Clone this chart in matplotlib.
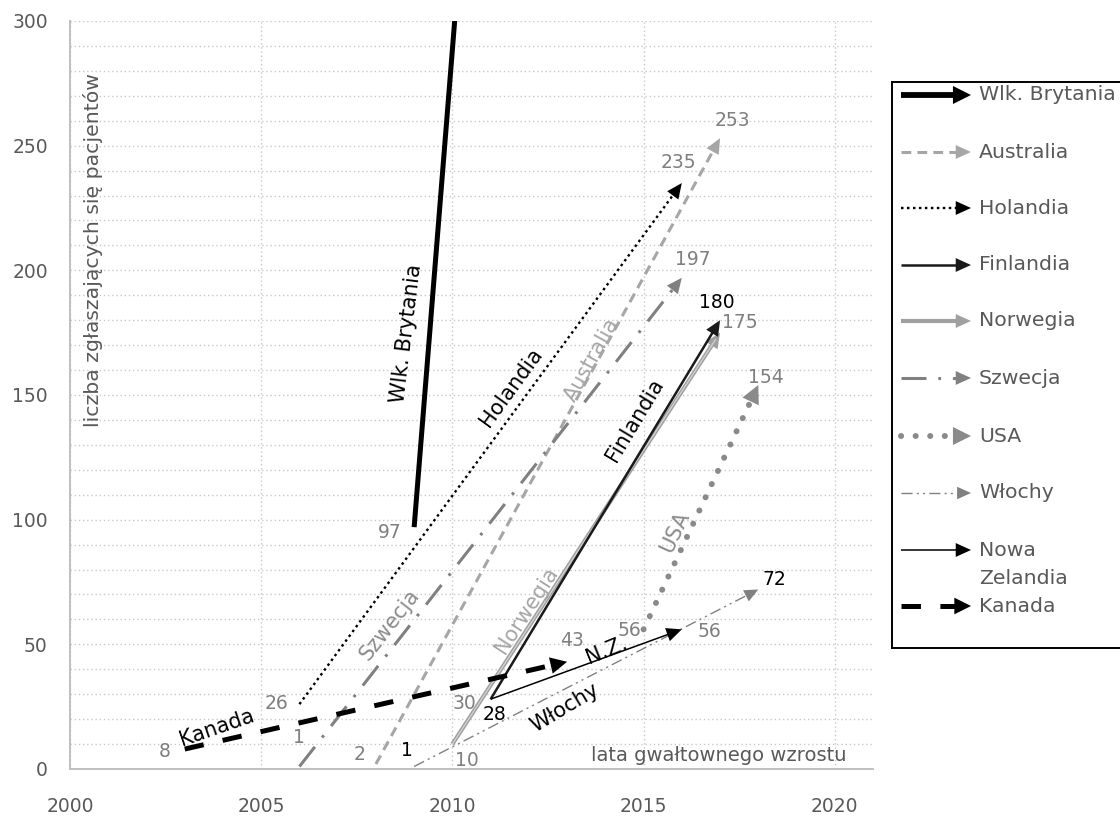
import numpy as np
import matplotlib
matplotlib.use('Agg')
import matplotlib.pyplot as plt
from matplotlib.ticker import MultipleLocator

# ---------------- data ----------------
countries = ['Wlk. Brytania', 'Australia', 'Holandia', 'Finlandia', 'Norwegia',
             'Szwecja', 'USA', 'Włochy', 'Nowa Zelandia', 'Kanada']
start_year = [2009, 2008, 2006, 2011, 2010, 2006, 2015, 2009, 2011, 2003]
start_val = [97, 2, 26, 28, 10, 1, 56, 1, 28, 8]
end_year = [2011, 2017, 2016, 2017, 2017, 2016, 2018, 2018, 2016, 2013]
end_val = [480, 253, 235, 180, 175, 197, 154, 72, 56, 43]
short_names = ['Wlk. Brytania', 'Australia', 'Holandia', 'Finlandia', 'Norwegia',
               'Szwecja', 'USA', 'Włochy', 'N.Z.', 'Kanada']
extra_label_year = [2011]
extra_label_val = [30]
x_ticks = [2000, 2005, 2010, 2015, 2020]
y_ticks = [0, 50, 100, 150, 200, 250, 300]
y_label = 'liczba zgłaszających się pacjentów'
x_note = 'lata gwałtownego wzrostu'

# ---------------- styles ----------------
styles = {
    'Wlk. Brytania': dict(color='black', lw=3.6, dashes=None, hl=11, hw=5.5, z=10),
    'Australia': dict(color='#a6a6a6', lw=2.2, dashes=(7, 4.5), hl=11, hw=5, z=3),
    'Holandia': dict(color='black', lw=1.7, dashes=(1.8, 2.5), hl=11, hw=5, z=6),
    'Finlandia': dict(color='#1a1a1a', lw=1.8, dashes=None, hl=11, hw=5, z=7),
    'Norwegia': dict(color='#a0a0a0', lw=3.0, dashes=None, hl=11, hw=5, z=2),
    'Szwecja': dict(color='#808080', lw=2.2, dashes=(18, 8.5, 2, 8.5), hl=11, hw=5, z=4),
    'USA': dict(color='#8a8a8a', lw=4.3, dashes=(0.1, 10.4), cap='round', hl=13, hw=6.5, z=5),
    'Włochy': dict(color='#808080', lw=1.0, dashes=(8, 3, 1.5, 3, 1.5, 3), hl=10, hw=4.5, z=4),
    'Nowa Zelandia': dict(color='black', lw=1.1, dashes=None, hl=11, hw=5, z=9),
    'Kanada': dict(color='black', lw=3.6, dashes=(14, 14), hl=12, hw=6, z=8),
}
GRAY_TXT = '#7f7f7f'
# number-label offsets in pixels (right, up); None = no label
num_lab = {
    'Wlk. Brytania': ((-24, -5), None, GRAY_TXT, GRAY_TXT),
    'Australia': ((-16, 10), (12, 18), GRAY_TXT, GRAY_TXT),
    'Holandia': ((-23, 1), (-3, 21), GRAY_TXT, GRAY_TXT),
    'Finlandia': ((4, -15), (-3.5, 18), 'black', 'black'),
    'Norwegia': ((14, -16), (19.5, 10), GRAY_TXT, GRAY_TXT),
    'Szwecja': ((0, 29.5), (11, 18), GRAY_TXT, GRAY_TXT),
    'USA': ((-14, -1), (8, 8), GRAY_TXT, GRAY_TXT),
    'Włochy': ((-7, 16.5), (16, 9.5), 'black', 'black'),
    'Nowa Zelandia': (None, (28, -2.6), GRAY_TXT, GRAY_TXT),
    'Kanada': ((-20, -2), (4.5, 21), GRAY_TXT, GRAY_TXT),
}
# series-name labels: position (data), rotation, color
name_lab = {
    'Wlk. Brytania': ((2008.81, 174.5), 83, 'black'),
    'Australia': ((2013.64, 164), 61, '#a6a6a6'),
    'Holandia': ((2011.55, 153.2), 54, 'black'),
    'Finlandia': ((2014.76, 140), 59, 'black'),
    'Norwegia': ((2011.94, 63.8), 57, '#a6a6a6'),
    'Szwecja': ((2008.36, 57.8), 52, '#8c8c8c'),
    'USA': ((2015.81, 95), 65, '#8c8c8c'),
    'Nowa Zelandia': ((2014.03, 47.7), 22, 'black'),
    'Włochy': ((2012.93, 24.5), 31, 'black'),
    'Kanada': ((2003.84, 16.4), 19, 'black'),
}

plt.rcParams['lines.scale_dashes'] = False
plt.rcParams['font.family'] = ['DejaVu Sans']

W, H = 1120, 817
fig = plt.figure(figsize=(W / 100, H / 100), dpi=100)
ax = fig.add_axes([70 / W, 1 - 769 / H, (873 - 70) / W, (769 - 21) / H])
ax.set_xlim(2000, 2021)
ax.set_ylim(0, 300)
ax.set_xticks(x_ticks)
ax.set_yticks(y_ticks)
ax.yaxis.set_minor_locator(MultipleLocator(10))
ax.grid(True, which='both', axis='y', color='#c8c8c8', lw=1.0, dashes=(1, 2))
ax.grid(True, which='major', axis='x', color='#c8c8c8', lw=1.0, dashes=(1, 2))
ax.set_axisbelow(True)
for s in ['top', 'right']:
    ax.spines[s].set_visible(False)
for s in ['left', 'bottom']:
    ax.spines[s].set_color('#bfbfbf')
    ax.spines[s].set_linewidth(1.4)
ax.tick_params(axis='both', which='both', length=0, labelsize=13.5, labelcolor='#595959')
ax.tick_params(axis='x', pad=20)
ax.tick_params(axis='y', pad=16)


def draw_arrow(a, p_start, p_end, st, lw_scale=1.0):
    T = a.transData
    p0 = np.array(T.transform(p_start))
    p1 = np.array(T.transform(p_end))
    d = p1 - p0
    L = np.hypot(*d)
    u = d / L
    hl_px = st['hl'] * fig.dpi / 72.0
    pe = p1 - u * hl_px * 0.6
    xe, ye = T.inverted().transform(pe)
    kw = dict(color=st['color'], lw=st['lw'] * lw_scale, zorder=st['z'],
              solid_capstyle='butt', dash_capstyle=st.get('cap', 'butt'))
    if st['dashes'] is not None:
        kw['dashes'] = st['dashes']
    a.plot([p_start[0], xe], [p_start[1], ye], **kw)
    a.annotate('', xy=p_end, xytext=p_start,
               arrowprops=dict(arrowstyle='-|>,head_length=%g,head_width=%g' % (st['hl'], st['hw']),
                               mutation_scale=1, lw=0, color=st['color'],
                               shrinkA=0, shrinkB=0),
               zorder=st['z'])


for i, c in enumerate(countries):
    st = styles[c]
    draw_arrow(ax, (start_year[i], start_val[i]), (end_year[i], end_val[i]), st)
    if c == 'Norwegia':
        ax.plot([start_year[i], end_year[i] - 0.12], [start_val[i], end_val[i] - 2.8],
                color='#d8d8d8', lw=0.8, zorder=st['z'] + 0.1)
    so, eo, sc, ec = num_lab[c]
    if so is not None:
        ax.annotate(str(start_val[i]), xy=(start_year[i], start_val[i]), xytext=so,
                    textcoords='offset pixels', ha='center', va='center',
                    fontsize=13.5, color=sc, zorder=12)
    if eo is not None:
        ax.annotate(str(end_val[i]), xy=(end_year[i], end_val[i]), xytext=eo,
                    textcoords='offset pixels', ha='center', va='center',
                    fontsize=13.5, color=ec, zorder=12)
    pos, rot, col = name_lab[c]
    ax.text(pos[0], pos[1], short_names[i], rotation=rot, rotation_mode='anchor',
            ha='center', va='center', fontsize=15, color=col, zorder=12)

for yy, vv in zip(extra_label_year, extra_label_val):
    ax.annotate(str(vv), xy=(yy, vv), xytext=(-26, -9), textcoords='offset pixels',
                ha='center', va='center', fontsize=13.5, color=GRAY_TXT, zorder=12)

ax.text(2000.6, 208, y_label, rotation=90, ha='center', va='center',
        fontsize=14.7, color='#595959')
ax.text(2016.97, 5.6, x_note, ha='center', va='center', fontsize=14, color='#595959')

# ---------------- legend ----------------
lg = fig.add_axes([892 / W, 1 - 648 / H, (W - 892) / W, (648 - 82) / H])
lg.set_xlim(892, W)
lg.set_ylim(648, 82)
lg.set_xticks([])
lg.set_yticks([])
lg.patch.set_facecolor('white')
for s in ['left', 'top', 'bottom']:
    lg.spines[s].set_color('black')
    lg.spines[s].set_linewidth(1.4)
lg.spines['right'].set_visible(False)
row_y = [95, 152, 208, 265, 321, 378, 436, 493, 550, 606]
for i, c in enumerate(countries):
    st = dict(styles[c])
    if c == 'Wlk. Brytania':
        st['lw'] = 4.2
        st['hl'] = 13
        st['hw'] = 6.5
    draw_arrow(lg, (901, row_y[i]), (971, row_y[i]), st)
    if c == 'Nowa Zelandia':
        lg.text(979, row_y[i], 'Nowa', ha='left', va='center', fontsize=14.7, color='#595959')
        lg.text(979, row_y[i] + 29, 'Zelandia', ha='left', va='center', fontsize=14.7, color='#595959')
    else:
        lg.text(979, row_y[i], c, ha='left', va='center', fontsize=14.7, color='#595959')

fig.savefig('out.png', dpi=100)
